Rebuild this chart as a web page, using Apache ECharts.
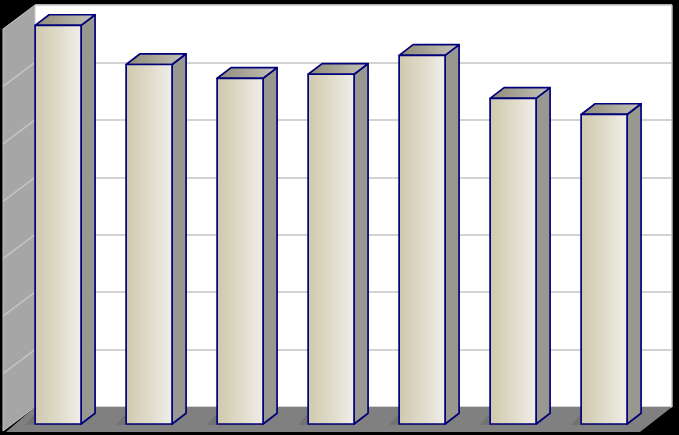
<!DOCTYPE html>
<html><head><meta charset="utf-8">
<style>html,body{margin:0;padding:0;background:#000}#c{width:679px;height:435px}</style>
<script src="https://cdn.jsdelivr.net/npm/echarts@6/dist/echarts.min.js"></script>
</head><body><div id="c"></div>
<script>
const categories = ['1','2','3','4','5','6','7'];
const values = [694, 626, 602, 609, 642, 567, 539];
const axisMin = 0, axisMax = 700, axisStep = 100;
const gridValues = [0,100,200,300,400,500,600,700];

const chart = echarts.init(document.getElementById('c'), null, {renderer:'canvas'});
const wallDX = -32, wallDY = 24;      // depth of the floor / side wall
const frontDX = -22.4, frontDY = 17;  // bar front plane
const barDX = 14, barDY = -10.7;      // bar depth
const edge = {stroke:'#00007a', lineWidth:1.7, lineJoin:'round'};
const poly = (pts, style, z2) => ({type:'polygon', shape:{points:pts}, style, z2});

chart.setOption({
  animation:false,
  backgroundColor:'#000000',
  grid:{left:35, right:7, top:5, bottom:28, backgroundColor:'#ffffff', show:true, borderWidth:0},
  xAxis:{type:'category', data:categories, axisLine:{show:false}, axisTick:{show:false}, axisLabel:{show:false}, splitLine:{show:false}},
  yAxis:{type:'value', min:axisMin, max:axisMax, interval:axisStep, axisLine:{show:false}, axisTick:{show:false}, axisLabel:{show:false},
    splitLine:{show:true, lineStyle:{color:'#c4c4c4', width:1.5}}},
  series:[
    {type:'custom', coordinateSystem:'cartesian2d', silent:true, z:2, data:[0],
     renderItem(params, api){
       const cs = params.coordSys;
       const L = cs.x, R = cs.x+cs.width, B = cs.y+cs.height, T = cs.y;
       const children = [
         {type:'line', shape:{x1:R,y1:T,x2:R,y2:B}, style:{stroke:'#bdbdbd', lineWidth:1.5}, z2:0},
         {type:'line', shape:{x1:L,y1:T,x2:R,y2:T}, style:{stroke:'#d0d0d0', lineWidth:1}, z2:0},
         poly([[L,T],[L+wallDX,T+wallDY],[L+wallDX,B+wallDY],[L,B]], {fill:'#a6a6a6', stroke:'#c8c8c8', lineWidth:1}, 1),
         poly([[L,B],[R,B],[R+wallDX,B+wallDY+1],[L+wallDX+3,B+wallDY+1]], {fill:'#808080'}, 2)
       ];
       gridValues.forEach(v=>{
         if(v===axisMin||v===axisMax) return;
         const y = api.coord([0,v])[1];
         children.push({type:'line', shape:{x1:L,y1:y,x2:L+wallDX,y2:y+wallDY}, style:{stroke:'#c4c4c4', lineWidth:1.5}, z2:3});
       });
       return {type:'group', children};
     }},
    {type:'custom', coordinateSystem:'cartesian2d', silent:true, z:3, data:categories.map((c,i)=>[i,values[i]]),
     encode:{x:0,y:1},
     renderItem(params, api){
       const i = api.value(0), v = api.value(1);
       const top = api.coord([i,v]), base = api.coord([i,0]);
       const w = api.size([1,0])[0]*0.505;
       const l = top[0]-w/2+frontDX, r = l+w;
       const t = top[1]+frontDY, b = base[1]+frontDY;
       const front = new echarts.graphic.LinearGradient(0,0,1,0,[
         {offset:0,color:'#cfc8ac'},{offset:.5,color:'#dfdbc9'},{offset:1,color:'#f0eeea'}]);
       const topFill = new echarts.graphic.LinearGradient(0,0,1,0,[
         {offset:0,color:'#8f8a76'},{offset:1,color:'#c4c2ba'}]);
       return {type:'group', children:[
         poly([[l-10,b+1],[r,b+1],[r+barDX,b+barDY],[l,b+barDY]], {fill:'#737373'}, 1),
         poly([[r,t],[r+barDX,t+barDY],[r+barDX,b+barDY],[r,b]], Object.assign({fill:'#989890'},edge), 2),
         poly([[l,t],[l+barDX,t+barDY],[r+barDX,t+barDY],[r,t]], Object.assign({fill:topFill},edge), 3),
         {type:'rect', shape:{x:l,y:t,width:w,height:b-t}, style:Object.assign({fill:front},edge), z2:4}
       ]};
     }}
  ]
});
</script></body></html>
